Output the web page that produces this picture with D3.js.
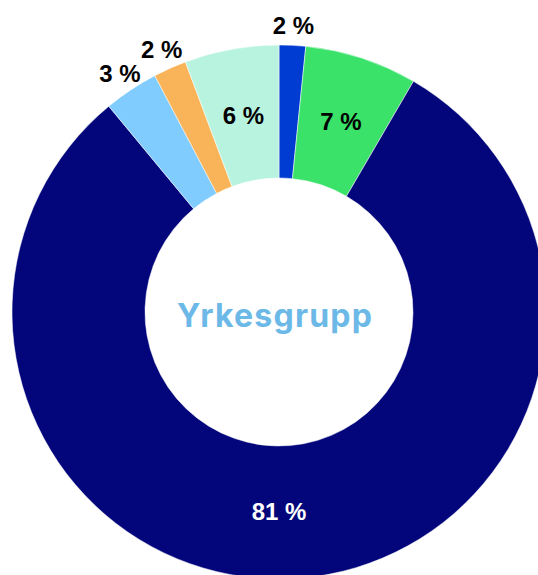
<!DOCTYPE html>
<html>
<head>
<meta charset="utf-8">
<script src="https://cdn.jsdelivr.net/npm/d3@7"></script>
<style>
  html, body { margin: 0; padding: 0; background: #fff; }
  svg { display: block; }
</style>
</head>
<body>
<svg id="chart" width="538" height="575"></svg>
<script>
// slices in drawing order, clockwise from 12 o'clock
const categories = ["A", "B", "C", "D", "E", "F"];
const values = [1.6, 6.8, 80.6, 3.3, 2.0, 5.7];
const labels = ["2 %", "7 %", "81 %", "3 %", "2 %", "6 %"];
const colors = ["#003cd2", "#3ae26a", "#03067a", "#80ccff", "#f9b45a", "#b8f3e0"];
const centerTitle = "Yrkesgrupp";

const cx = 279, cy = 312;
const outerR = 267, innerR = 134;

const svg = d3.select("#chart");
const g = svg.append("g").attr("transform", `translate(${cx},${cy})`);

const pie = d3.pie().sort(null).value(d => d.value);
const arcs = pie(categories.map((c, i) => ({ cat: c, value: values[i], label: labels[i], color: colors[i] })));

const arc = d3.arc().innerRadius(innerR).outerRadius(outerR);
const midArc = d3.arc().innerRadius(200).outerRadius(200);
const outArc = d3.arc().innerRadius(287).outerRadius(287);

g.selectAll("path.slice")
  .data(arcs)
  .join("path")
  .attr("class", "slice")
  .attr("d", arc)
  .attr("fill", d => d.data.color)
  .attr("stroke", "#fff")
  .attr("stroke-width", 0.5);

// small slices get their label outside the ring
const isSmall = d => (d.endAngle - d.startAngle) < 0.3;

function labelPos(d) {
  if (isSmall(d)) return outArc.centroid(d);
  // the big slice is labelled straight below the centre
  if (d.startAngle < Math.PI && d.endAngle > Math.PI) {
    return midArc.centroid({ startAngle: Math.PI, endAngle: Math.PI });
  }
  return midArc.centroid(d);
}

g.selectAll("text.lbl")
  .data(arcs)
  .join("text")
  .attr("class", "lbl")
  .attr("transform", d => `translate(${labelPos(d)})`)
  .attr("text-anchor", "middle")
  .attr("dy", "0.35em")
  .attr("font-family", "'Liberation Sans', Arial, sans-serif")
  .attr("font-weight", "bold")
  .attr("font-size", 24)
  .attr("fill", d => d.data.color === "#03067a" ? "#fff" : "#000")
  .text(d => d.data.label);

g.append("text")
  .attr("x", -4)
  .attr("y", 15)
  .attr("text-anchor", "middle")
  .attr("font-family", "Inter, 'Open Sans', sans-serif")
  .attr("font-weight", 700)
  .attr("font-size", 32)
  .attr("letter-spacing", 1.2)
  .attr("fill", "#6cb9e8")
  .text(centerTitle);
</script>
</body>
</html>
